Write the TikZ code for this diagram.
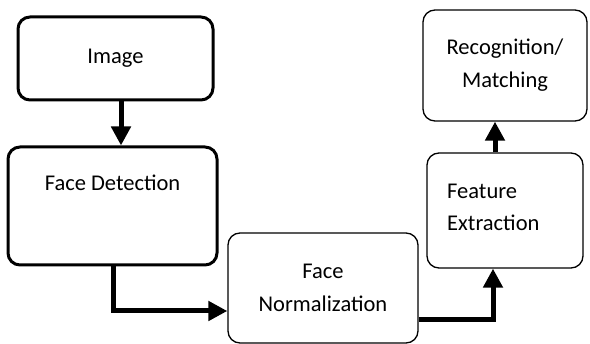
\documentclass[tikz,border=0pt]{standalone}
\usepackage{fontspec}
\setmainfont{Carlito}
\usetikzlibrary{arrows.meta,calc}
\begin{document}
\begin{tikzpicture}[x=1pt,y=-1pt,
  box/.style={draw, rounded corners=12pt, line width=1.3pt, inner sep=0pt,
    font=\fontsize{22.5}{33}\selectfont, align=center},
  boldbox/.style={box, line width=3pt},
  txt/.style={font=\fontsize{22.5}{32}\selectfont, inner sep=0pt},
  flow/.style={line width=5pt, -{Triangle[length=19pt,width=19pt]}}]
\useasboundingbox[fill=white] (0,0) rectangle (590,344);
\node[boldbox, minimum width=195pt, minimum height=83pt] (img) at (115.5,58.5) {Image};
\node[boldbox, minimum width=209pt, minimum height=118pt] (fd) at (112.5,206) {};
\node[txt] (fdt) at (112.5,183) {Face Detection};
\node[box, minimum width=190pt, minimum height=110pt] (norm) at (323,288) {Face\\Normalization};
\node[box, minimum width=156pt, minimum height=115pt] (fe) at (505,210.5) {};
\node[txt, align=left, anchor=west] (fet) at (447,207) {Feature\\Extraction};
\node[box, minimum width=164pt, minimum height=111pt] (rec) at (505,65.5) {Recognition/\\Matching};
\draw[flow] ($(img.south)+(5.5,0)$) -- ($(img.south |- fd.north)+(5.5,0)$);
\draw[flow] ($(fd.south)+(0.5,0)$) |- ($(norm.west)+(0,23)$);
\draw[flow] ($(norm.east)+(0,32)$) -| ($(fe.south)+(-12,0)$);
\draw[flow] ($(fe.north)+(-10,0)$) -- ($(rec.south)+(-10,0)$);
\end{tikzpicture}
\end{document}
